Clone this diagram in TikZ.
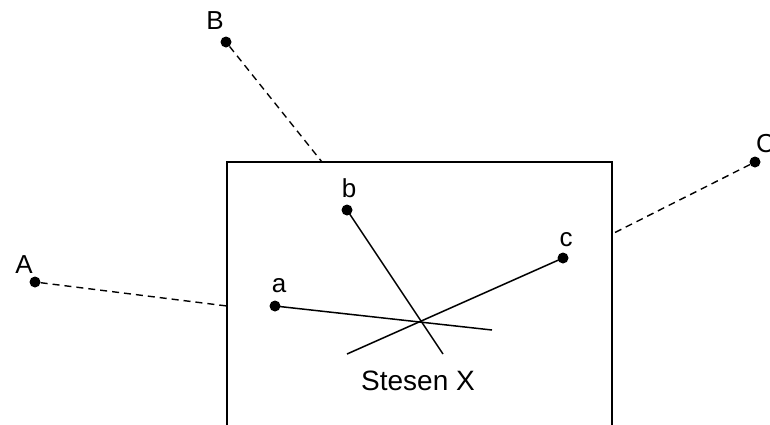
\documentclass[tikz,border=0pt]{standalone}
\usepackage{fontspec}
\setmainfont{Liberation Sans}
\usetikzlibrary{positioning}
\tikzset{
  station/.style={circle, fill=black, inner sep=0pt, minimum size=11pt},
  lbl/.style={font=\fontsize{26}{28}\selectfont, inner sep=0pt},
  feed/.style={dashed, dash pattern=on 7pt off 5pt, line width=1.4pt},
  bearing/.style={line width=1.5pt},
}
\begin{document}
\begin{tikzpicture}[x=1pt, y=-1pt]
  \useasboundingbox (0,0) rectangle (770,424);

  % Outer stations
  \node[station] (A) at (35,282) {};
  \node[station] (B) at (226,42)  {};
  \node[station] (C) at (755,162) {};
  \node[lbl] (lA) at (24,265)  {A};
  \node[lbl] (lB) at (215,21)  {B};
  \node[lbl, anchor=west] (lC) at (756,144) {C};

  % Map frame (open at the bottom)
  \draw[bearing] (227,440) -- (227,162) -- (612,162) -- (612,440);
  \coordinate (eA) at (227,306);
  \coordinate (eB) at (322,162);
  \coordinate (eC) at (612,234);

  % Dashed links to the frame
  \draw[feed] (A) -- (eA);
  \draw[feed] (B) -- (eB);
  \draw[feed] (C) -- (eC);

  % Inner points
  \node[station] (a) at (275,306) {};
  \node[station] (b) at (347,210) {};
  \node[station] (c) at (563,258) {};
  \node[lbl] (la) at (279,286) {a};
  \node[lbl] (lb) at (349,188) {b};
  \node[lbl] (lc) at (566,240) {c};

  % Bearing lines
  \coordinate (ta) at (492,330);
  \coordinate (tb) at (443,354);
  \coordinate (tc) at (347,354);
  \draw[bearing] (a.center) -- (ta);
  \draw[bearing] (b.center) -- (tb);
  \draw[bearing] (c.center) -- (tc);

  \node[font=\fontsize{28}{32}\selectfont, inner sep=0pt] (X) at (418,381) {Stesen X};
\end{tikzpicture}
\end{document}
